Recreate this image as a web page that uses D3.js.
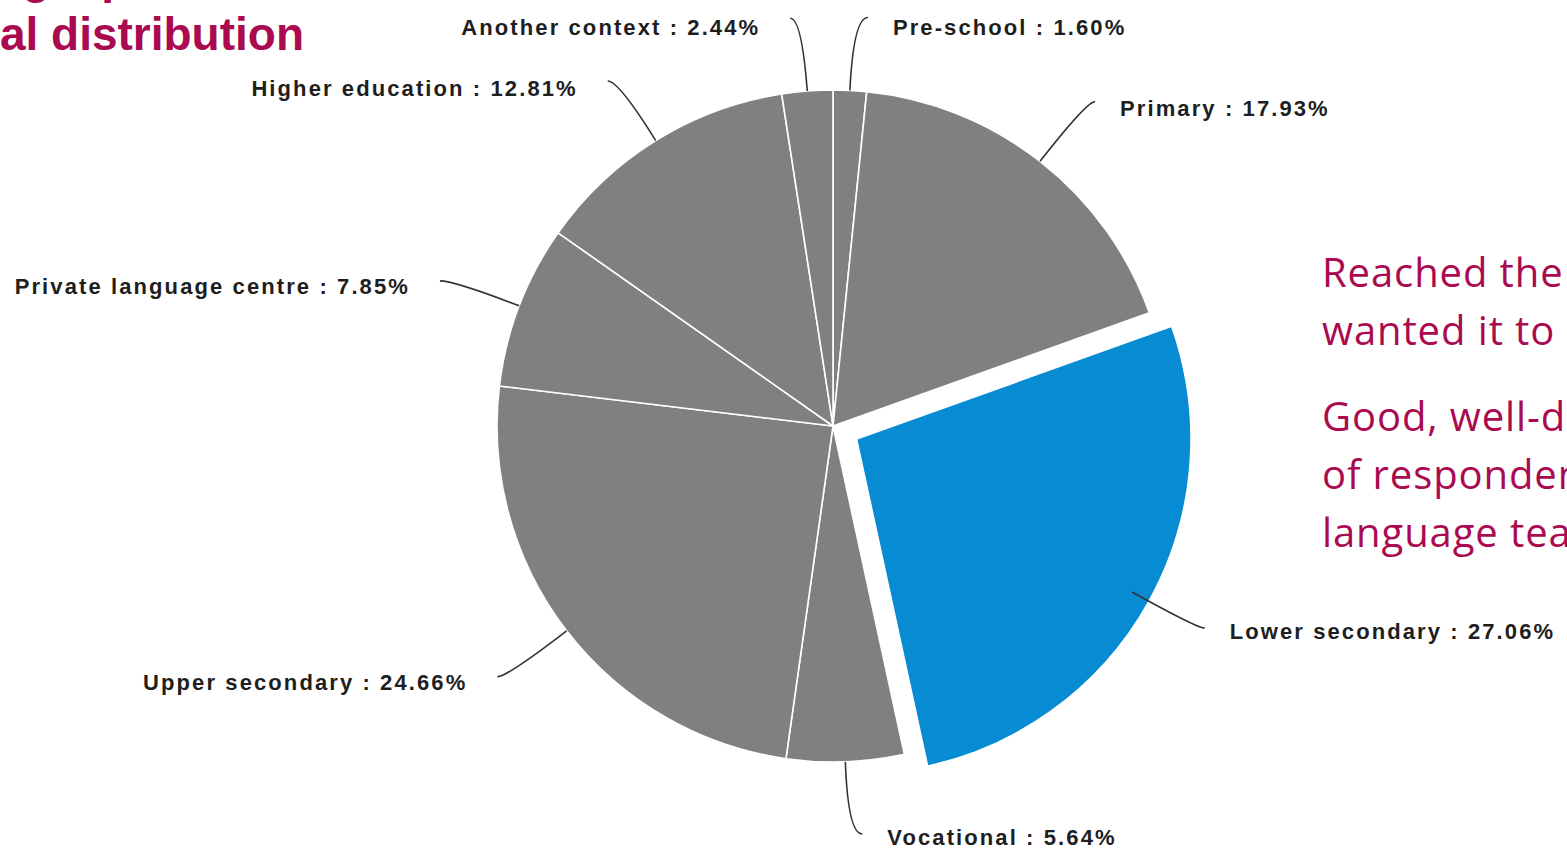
<!DOCTYPE html>
<html>
<head>
<meta charset="utf-8">
<script src="https://cdn.jsdelivr.net/npm/d3@7"></script>
<style>
  html, body { margin: 0; padding: 0; background: #ffffff; overflow: hidden; }
  svg { display: block; }
</style>
</head>
<body>
<svg id="chart" width="1567" height="851"></svg>
<script>
// ---- data ----
const categories = ["Pre-school", "Primary", "Lower secondary", "Vocational",
  "Upper secondary", "Private language centre", "Higher education", "Another context"];
const values = [1.60, 17.93, 27.06, 5.64, 24.66, 7.85, 12.81, 2.44];
const highlighted = "Lower secondary";

const titleLines = ["Respondents' teaching \u2013 profile", "Educational distribution"];
const noteParagraphs = [
  ["Reached the audience we", "wanted it to reach"],
  ["Good, well-distributed range", "of respondents across all", "language teaching sectors"]
];

// ---- layout (not data) ----
const W = 1567, H = 851;
const cx = 833, cy = 426, R = 336;
const explode = 26;
const grey = "#808080", blue = "#078bd2", crimson = "#aa0a4f";
// leader end: [angle shift (deg), radius from main centre, label vertical offset]
const leaderLayout = {
  "Pre-school": [2.0, 410, 9],
  "Primary": [0.9, 417, 6],
  "Lower secondary": [-0.5, 423, 3],
  "Vocational": [-2.0, 409, 3],
  "Upper secondary": [0.8, 419, 5],
  "Private language centre": [-0.7, 419, 5],
  "Higher education": [-1.3, 412, 7],
  "Another context": [-1.6, 410, 9]
};

const svg = d3.select("#chart");
const data = categories.map((c, i) => ({ cat: c, value: values[i] }));

const pie = d3.pie().sort(null).value(d => d.value).startAngle(0).endAngle(2 * Math.PI);
const arcs = pie(data);
const arc = d3.arc().innerRadius(0).outerRadius(R);

const polar = (a, r) => [Math.sin(a) * r, -Math.cos(a) * r];

const g = svg.append("g").attr("transform", `translate(${cx},${cy})`);

// slices
g.selectAll("path.slice")
  .data(arcs)
  .join("path")
  .attr("class", "slice")
  .attr("d", arc)
  .attr("transform", d => {
    if (d.data.cat !== highlighted) return null;
    const m = (d.startAngle + d.endAngle) / 2;
    const [ox, oy] = polar(m, explode);
    return `translate(${ox},${oy})`;
  })
  .attr("fill", d => d.data.cat === highlighted ? blue : grey)
  .attr("stroke", "#ffffff")
  .attr("stroke-width", d => d.data.cat === highlighted ? 3 : 1.6)
  .attr("stroke-linejoin", "round");

// leader lines + labels
arcs.forEach(d => {
  const m = (d.startAngle + d.endAngle) / 2;
  const [shiftDeg, rE, dy] = leaderLayout[d.data.cat];
  let S;
  if (d.data.cat === highlighted) {
    const [ox, oy] = polar(m, explode);
    const [sx, sy] = polar(m, R - 20);
    S = [ox + sx, oy + sy];
  } else {
    S = polar(m, R);
  }
  const E = polar(m + shiftDeg * Math.PI / 180, rE);
  const dirY = -Math.cos(m), dirX = Math.sin(m);
  const t = (E[1] - S[1]) / dirY;
  const C = [S[0] + dirX * t, E[1]];
  const p = d3.path();
  p.moveTo(S[0], S[1]);
  p.quadraticCurveTo(C[0], C[1], E[0], E[1]);
  g.append("path")
    .attr("d", p.toString())
    .attr("fill", "none")
    .attr("stroke", "#333333")
    .attr("stroke-width", 1.6);

  const right = Math.sin(m) > 0;
  g.append("text")
    .attr("x", right ? E[0] + 25 : E[0] - 30)
    .attr("y", E[1] + dy + 8)
    .attr("text-anchor", right ? "start" : "end")
    .attr("font-family", "'Liberation Sans', Arial, sans-serif")
    .attr("font-weight", "bold")
    .attr("font-size", 22)
    .attr("letter-spacing", 2.1)
    .attr("fill", "#1e1e1e")
    .text(`${d.data.cat} : ${d.data.value.toFixed(2)}%`);
});

// title (cropped at top-left, as in the reference)
const t1 = svg.append("text")
  .attr("y", -7)
  .attr("font-family", "'Liberation Sans', Arial, sans-serif")
  .attr("font-weight", "bold")
  .attr("font-size", 46)
  .attr("fill", crimson)
  .text(titleLines[0]);
const idx = titleLines[0].indexOf("g \u2013");
const off = t1.node().getSubStringLength(0, idx);
t1.attr("x", 22 - off);

svg.append("text")
  .attr("x", 304)
  .attr("y", 50)
  .attr("text-anchor", "end")
  .attr("font-family", "'Liberation Sans', Arial, sans-serif")
  .attr("font-weight", "bold")
  .attr("font-size", 46)
  .attr("fill", crimson)
  .text(titleLines[1]);

// notes on the right
const noteG = svg.append("g");
let y = 287;
noteParagraphs.forEach((para) => {
  para.forEach((line) => {
    noteG.append("text")
      .attr("x", 1322)
      .attr("y", y)
      .attr("font-family", "'Open Sans', 'Liberation Sans', Arial, sans-serif")
      .attr("font-size", 40)
      .attr("letter-spacing", 0.9)
      .attr("fill", crimson)
      .text(line);
    y += 58;
  });
  y += 28;
});
</script>
</body>
</html>
